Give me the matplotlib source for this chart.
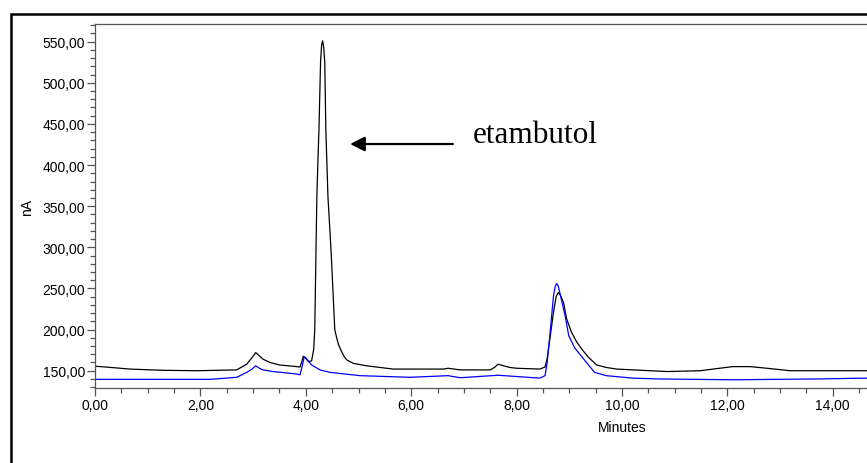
import numpy as np
import matplotlib
matplotlib.use("Agg")
from matplotlib import pyplot as plt
from matplotlib.patches import Rectangle
from matplotlib.ticker import MultipleLocator, FuncFormatter

# chromatogram traces (minutes, nA)
t_black = [0.0, 0.3, 0.66, 1.30, 1.93, 2.69, 2.88, 2.98, 3.05, 3.12, 3.19, 3.32, 3.50,
           3.83, 3.89, 3.92, 3.95, 3.99, 4.05, 4.11, 4.15, 4.17, 4.19, 4.21, 4.23, 4.25,
           4.28, 4.30, 4.32, 4.34, 4.36, 4.38, 4.42, 4.46, 4.49, 4.55, 4.59, 4.62, 4.68,
           4.73, 4.78, 4.90, 5.15, 5.66, 6.61, 6.70, 6.93, 7.50, 7.58, 7.65, 7.75, 7.87,
           8.00, 8.44, 8.54, 8.58, 8.63, 8.70, 8.75, 8.79, 8.83, 8.89, 8.95, 9.04, 9.14,
           9.24, 9.36, 9.52, 9.70, 9.90, 10.85, 11.48, 12.10, 12.43, 12.75, 13.19,
           14.64, 15.0]
y_black = [155.5, 154, 152, 150.5, 150, 151, 158, 166, 172, 168, 164, 160, 157,
           155, 154.5, 160, 167.5, 166, 161, 162, 176, 200, 282, 362, 405, 444,
           525, 546, 551, 543, 525, 444, 362, 318, 282, 200, 189, 182, 173,
           167, 163, 159, 156, 152, 152, 153, 151, 151, 154, 158, 156, 154,
           153, 152, 154.5, 165, 188, 221, 240, 245, 242, 233, 213, 197, 185,
           176, 166.5, 157, 154, 152, 149, 150, 155, 155, 153, 150,
           150, 150]

t_blue = [0.0, 0.66, 2.18, 2.69, 2.88, 2.98, 3.05, 3.12, 3.19, 3.38, 3.83, 3.89, 3.93,
          3.97, 4.02, 4.11, 4.27, 4.46, 5.03, 5.98, 6.70, 6.93, 7.65, 8.44, 8.54, 8.58,
          8.63, 8.70, 8.73, 8.76, 8.79, 8.82, 8.92, 8.99, 9.10, 9.20, 9.30, 9.48, 9.70,
          10.2, 10.7, 12.1, 13.7, 14.64, 15.0]
y_blue = [139.5, 139.5, 139.5, 142, 148, 152, 156, 153, 151, 149, 146, 145, 155,
          167, 164, 157, 151, 148, 144, 142, 144, 141.5, 144.5, 141, 144, 160,
          192.5, 241, 252, 256, 253, 245, 217, 192.5, 178, 170, 162, 148, 144,
          141, 140, 139, 140, 141, 141]

label_text = "etambutol"
arrow_tip = (4.84, 425.6)
arrow_tail = (6.79, 425.6)

fig = plt.figure(figsize=(8.67, 4.64), dpi=100)
# the original axes runs to 20 min, cropped at the right edge
ax = fig.add_axes([95/867, 75/464, 1054/867, 364/464])

ax.plot(t_black, y_black, color="black", lw=0.9)
ax.plot(t_blue, y_blue, color="#0000ff", lw=0.9)

ax.set_xlim(0, 20)
ax.set_ylim(129, 571.5)


def comma(v, p):
    return ("%.2f" % v).replace(".", ",")


def comma_x(v, p):
    # labels past the cropped edge are not shown
    if v > 14.6:
        return ""
    return comma(v, p)


ax.xaxis.set_major_locator(MultipleLocator(2))
ax.xaxis.set_minor_locator(MultipleLocator(0.5))
ax.yaxis.set_major_locator(MultipleLocator(50))
ax.yaxis.set_minor_locator(MultipleLocator(10))
ax.xaxis.set_major_formatter(FuncFormatter(comma_x))
ax.yaxis.set_major_formatter(FuncFormatter(comma))
ax.yaxis.set_ticks(np.arange(150, 551, 50))

gray = "#555555"
for s in ax.spines.values():
    s.set_color(gray)
    s.set_linewidth(0.9)
ax.tick_params(which="major", length=6, width=0.9, color=gray, direction="out",
               labelsize=10, pad=1)
ax.tick_params(which="minor", length=3.5, width=0.9, color=gray, direction="out")
for lab in ax.get_xticklabels() + ax.get_yticklabels():
    lab.set_family("Liberation Sans")

ax.set_xlabel("Minutes", family="Liberation Sans", fontsize=10, labelpad=6)
ax.set_ylabel("nA", family="Liberation Sans", fontsize=10, labelpad=6)

ax.annotate("", xy=arrow_tip, xytext=arrow_tail,
            arrowprops=dict(arrowstyle="-|>", color="black", lw=1.6,
                            mutation_scale=22, shrinkA=0, shrinkB=0))
ax.text(7.17, 428, label_text, family="Liberation Serif", fontsize=22.5,
        va="baseline", ha="left")

# outer frame of the original figure
fig.patches.append(Rectangle((10.5/867, -0.2), 2.0, 1.2 - 14.5/464,
                             transform=fig.transFigure, fill=False,
                             lw=1.8, ec="black"))

fig.savefig("out.png", dpi=100)
